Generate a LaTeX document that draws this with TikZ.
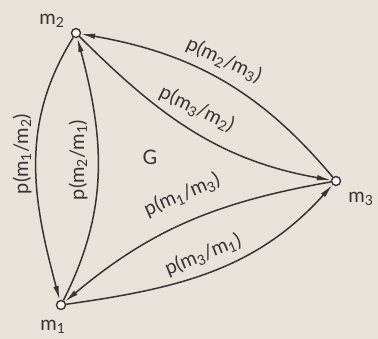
\documentclass[tikz,border=0pt]{standalone}
\usepackage{fontspec}
\setmainfont{Lato}
\usetikzlibrary{arrows.meta}
\definecolor{paper}{RGB}{231,227,218}
\definecolor{ink}{RGB}{58,50,50}
\newcommand{\mi}[1]{m\textsubscript{#1}}

\begin{document}
\begin{tikzpicture}[x=1pt,y=1pt,>={Latex[length=14pt,width=5.5pt]},
  font=\fontsize{20}{24}\selectfont,text=ink,
  vertex/.style={circle,draw=ink,fill=white,line width=1.4pt,inner sep=0pt,minimum size=9pt},
  arc/.style={->,line width=1.5pt,draw=ink},
  lbl/.style={inner sep=1pt}]
  \fill[paper] (0,0) rectangle (378,339);
  \useasboundingbox (0,0) rectangle (378,339);
  % states
  \node[vertex] (m1) at (61,34) {};
  \node[vertex] (m2) at (76,306) {};
  \node[vertex] (m3) at (336,158) {};
  \node[lbl] (t1) at (53,12) {\mi1};
  \node[lbl] (t2) at (52,318) {\mi2};
  \node[lbl] (t3) at (361,140) {\mi3};
  \node[lbl] (g) at (150,182) {G};
  % transitions
  \draw[arc] (m2) to[out=238,in=105] (m1);
  \draw[arc] (m1) to[out=63,in=-75] (m2);
  \draw[arc] (m3) to[out=130,in=-10] (m2);
  \draw[arc] (m2) to[out=-45,in=170] (m3);
  \draw[arc] (m3) to[out=190,in=40] (m1);
  \draw[arc] (m1) to[out=8,in=228] (m3);
  % probabilities
  \node[lbl,rotate=90] (p12) at (22,185) {p(\mi1/\mi2)};
  \node[lbl,rotate=90] (p21) at (78,179) {p(\mi2/\mi1)};
  \node[lbl,rotate=-25] (p23) at (224,279) {p(\mi2/\mi3)};
  \node[lbl,rotate=-26] (p32) at (197,230) {p(\mi3/\mi2)};
  \node[lbl,rotate=23] (p13) at (182,144) {p(\mi1/\mi3)};
  \node[lbl,rotate=22] (p31) at (203,84) {p(\mi3/\mi1)};
\end{tikzpicture}
\end{document}
